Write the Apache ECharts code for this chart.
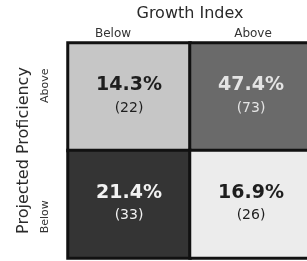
<!DOCTYPE html>
<html>
<head>
<meta charset="utf-8">
<script src="https://cdn.jsdelivr.net/npm/echarts@6/dist/echarts.min.js"></script>
<style>
  html, body { margin: 0; padding: 0; background: #fff; }
  #main { width: 307px; height: 261px; }
</style>
</head>
<body>
<div id="main"></div>
<script>
// categories
var growthCats = ['Below', 'Above'];
var proficiencyCats = ['Below', 'Above'];

// cell values: [growth index, proficiency index]
var cellPos = [[0, 1], [1, 1], [0, 0], [1, 0]];
var cellPct = [14.3, 47.4, 21.4, 16.9];
var cellCount = [22, 73, 33, 26];

// fill / text shade for each cell (same order)
var cellFill = ['#c6c6c6', '#6a6a6a', '#343434', '#ececec'];
var cellText = ['#1e1e1e', '#e4e4e4', '#f2f2f2', '#1e1e1e'];

var chart = echarts.init(document.getElementById('main'));

var data = cellPos.map(function (p, i) {
    return {
        value: [p[0], p[1], cellPct[i], cellCount[i]],
        itemStyle: { color: cellFill[i] },
        label: {
            rich: {
                p: { color: cellText[i] },
                c: { color: cellText[i] }
            }
        }
    };
});

chart.setOption({
    animation: false,
    textStyle: { fontFamily: 'DejaVu Sans' },
    grid: { left: 68, top: 43, right: -5, bottom: 3, outerBoundsMode: 'none', containLabel: false },
    xAxis: {
        type: 'category',
        position: 'top',
        data: growthCats,
        name: 'Growth Index',
        nameLocation: 'middle',
        nameGap: 21,
        nameTextStyle: { fontSize: 16, color: '#2a2a2a', fontFamily: 'DejaVu Sans' },
        axisLine: { show: false },
        axisTick: { show: false },
        splitLine: { show: false },
        axisLabel: {
            margin: 3,
            fontSize: 12,
            color: '#333',
            formatter: function (v, i) {
                return i === 0 ? '{l|' + v + '}' : '{r|' + v + '}';
            },
            rich: {
                l: { fontSize: 12, color: '#333', padding: [0, 32, 0, 0] },
                r: { fontSize: 12, color: '#333', padding: [0, 0, 0, 4] }
            }
        }
    },
    yAxis: {
        type: 'category',
        data: proficiencyCats,
        name: 'Projected Proficiency',
        nameLocation: 'middle',
        nameGap: 27,
        nameRotate: 90,
        nameTextStyle: { fontSize: 16, color: '#2a2a2a', fontFamily: 'DejaVu Sans' },
        axisLine: { show: false },
        axisTick: { show: false },
        splitLine: { show: false },
        axisLabel: {
            rotate: 90,
            margin: 17,
            fontSize: 11,
            color: '#333',
            formatter: function (v, i) {
                return i === 0 ? '{b|' + v + '}' : '{a|' + v + '}';
            },
            rich: {
                a: { fontSize: 11, color: '#333', padding: [0, 0, 0, 22] },
                b: { fontSize: 11, color: '#333', padding: [0, 25, 0, 0] }
            }
        }
    },
    series: [{
        type: 'heatmap',
        data: data,
        itemStyle: { borderColor: '#111', borderWidth: 3 },
        emphasis: { disabled: true },
        label: {
            show: true,
            lineHeight: 23,
            formatter: function (p) {
                return '{p|' + p.value[2].toFixed(1) + '%}\n{c|(' + p.value[3] + ')}';
            },
            rich: {
                p: { fontSize: 19, fontWeight: 'bold', lineHeight: 23, fontFamily: 'DejaVu Sans' },
                c: { fontSize: 14, lineHeight: 23, fontFamily: 'DejaVu Sans' }
            }
        }
    }]
});
</script>
</body>
</html>
